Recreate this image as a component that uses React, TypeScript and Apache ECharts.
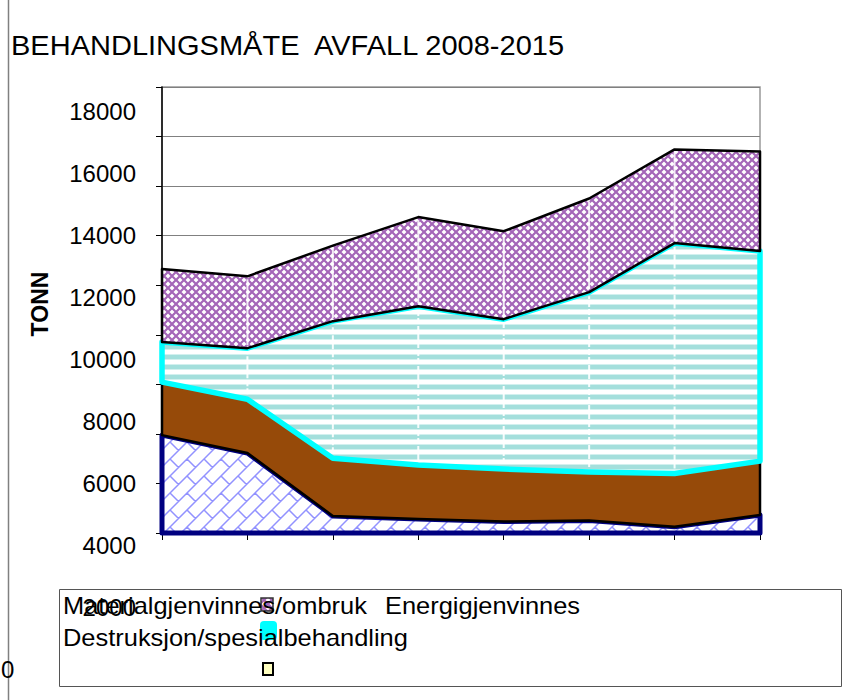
import React, { useEffect, useRef } from "react";
import * as echarts from "echarts";

const categories = ["2008", "2009", "2010", "2011", "2012", "2013", "2014", "2015"];
const seriesNames = [
  "Materialgjenvinnes/ombruk",
  "Energigjenvinnes",
  "Destruksjon/spesialbehandling",
  "",
];
const materialValues = [3950, 3230, 690, 560, 460, 500, 250, 730];
const energiValues = [2140, 2170, 2330, 2180, 2120, 1960, 2150, 2170];
const destruksjonValues = [1620, 2060, 5530, 6410, 6050, 7260, 9300, 8480];
const annetValues = [2940, 2900, 3050, 3600, 3550, 3780, 3780, 4020];
const yTickLabels = [2000, 4000, 6000, 8000, 10000, 12000, 14000, 16000, 18000];
const strayZeroLabel = "0";
const titleText = "BEHANDLINGSMÅTE  AVFALL 2008-2015";
const yAxisTitle = "TONN";

const FONT = "'Liberation Sans', Arial, sans-serif";

function makePattern(w: number, h: number, draw: (c: CanvasRenderingContext2D) => void) {
  const cv = document.createElement("canvas");
  cv.width = w;
  cv.height = h;
  const ctx = cv.getContext("2d") as CanvasRenderingContext2D;
  ctx.fillStyle = "#ffffff";
  ctx.fillRect(0, 0, w, h);
  draw(ctx);
  return { image: cv.toDataURL(), repeat: "repeat", imageWidth: w, imageHeight: h } as any;
}

function brickPattern() {
  const T = 34;
  const R = 17;
  return makePattern(T, T, (c) => {
    c.strokeStyle = "rgba(110,110,255,0.75)";
    c.lineWidth = 1.5;
    c.beginPath();
    for (let k = -1; k <= 5; k++) {
      const s = R * k;
      c.moveTo(-20, s + 20);
      c.lineTo(T + 20, s - T - 20);
    }
    for (let k = -2; k <= 5; k++) {
      const off = ((k % 2) + 2) % 2 === 0 ? 0 : R;
      for (let m = -3; m <= 3; m++) {
        const d = off + m * T;
        const s0 = R * k;
        const s1 = R * (k + 1);
        c.moveTo((s0 + d) / 2, (s0 - d) / 2);
        c.lineTo((s1 + d) / 2, (s1 - d) / 2);
      }
    }
    c.stroke();
  });
}

function stripePattern() {
  return makePattern(8, 10, (c) => {
    c.fillStyle = "#d2f0ee";
    c.fillRect(0, 4, 8, 1);
    c.fillRect(0, 9, 8, 1);
    c.fillStyle = "#a4dfdc";
    c.fillRect(0, 5, 8, 4);
  });
}

function purplePattern() {
  return makePattern(8, 8, (c) => {
    c.strokeStyle = "#a466b8";
    c.lineWidth = 2.2;
    c.beginPath();
    c.moveTo(-2, -2);
    c.lineTo(10, 10);
    c.moveTo(10, -2);
    c.lineTo(-2, 10);
    c.stroke();
  });
}

function cumulative(list: number[][]) {
  const out: number[][] = [categories.map(() => 0)];
  list.forEach((arr) => {
    const prev = out[out.length - 1];
    out.push(arr.map((v, i) => prev[i] + v));
  });
  return out;
}

export default function App() {
  const ref = useRef<HTMLDivElement>(null);

  useEffect(() => {
    if (!ref.current) return;
    const chart = echarts.init(ref.current, undefined, { renderer: "svg" });
    const cum = cumulative([materialValues, energiValues, destruksjonValues, annetValues]);

    const fills = [brickPattern(), "#964a09", stripePattern(), purplePattern()];
    const strokes = ["#000080", "#000000", "#00ffff", "#000000"];
    const widths = [5, 2.5, 5.5, 2.5];

    const areaSeries = [0, 1, 2, 3].map((k) => ({
      type: "custom",
      name: seriesNames[k],
      coordinateSystem: "cartesian2d",
      xAxisIndex: 0,
      yAxisIndex: 0,
      silent: true,
      data: [[0, 0]],
      encode: { x: 0, y: 1 },
      z: 2 + k,
      renderItem: (_params: any, api: any) => {
        const pts: number[][] = [];
        for (let i = 0; i < categories.length; i++) pts.push(api.coord([i, cum[k + 1][i]]));
        for (let i = categories.length - 1; i >= 0; i--) pts.push(api.coord([i, cum[k][i]]));
        return {
          type: "polygon",
          shape: { points: pts },
          style: {
            fill: fills[k],
            stroke: strokes[k],
            lineWidth: widths[k],
            lineJoin: "round",
          },
        };
      },
    }));

    const whiteLines = {
      type: "custom",
      coordinateSystem: "cartesian2d",
      xAxisIndex: 0,
      yAxisIndex: 0,
      silent: true,
      z: 6,
      data: categories.slice(1, -1).map((_, j) => [j + 1, 0]),
      encode: { x: 0, y: 1 },
      renderItem: (params: any, api: any) => {
        const i = params.dataIndex + 1;
        const a = api.coord([i, cum[2][i]]);
        const b = api.coord([i, cum[3][i]]);
        const c = api.coord([i, cum[4][i]]);
        return {
          type: "group",
          children: [
            {
              type: "line",
              shape: { x1: a[0], y1: a[1] - 5, x2: b[0], y2: b[1] + 4 },
              style: { stroke: "rgba(255,255,255,0.9)", lineWidth: 2, lineDash: [6, 2] },
            },
            {
              type: "line",
              shape: { x1: b[0], y1: b[1] - 3, x2: c[0], y2: c[1] + 3 },
              style: { stroke: "rgba(255,255,255,0.85)", lineWidth: 2 },
            },
          ],
        };
      },
    };

    const legendTextStyle = { fontSize: 24, fontFamily: FONT, fill: "#000" };

    chart.setOption({
      animation: false,
      backgroundColor: "#ffffff",
      grid: [
        {
          left: 162,
          right: 93,
          top: 87,
          bottom: 167,
          show: true,
          borderColor: "#999999",
          borderWidth: 1.5,
          backgroundColor: "transparent",
        },
        { left: 162, right: 93, top: 111, bottom: 93, show: false },
      ],
      xAxis: [
        {
          type: "category",
          gridIndex: 0,
          data: categories,
          boundaryGap: false,
          axisLine: { show: true, lineStyle: { color: "#000", width: 1 } },
          axisTick: { show: true, length: 7, lineStyle: { color: "#000", width: 1 } },
          axisLabel: { show: false },
          splitLine: { show: false },
        },
        {
          type: "category",
          gridIndex: 1,
          data: categories,
          show: false,
        },
      ],
      yAxis: [
        {
          type: "value",
          gridIndex: 0,
          min: 0,
          max: 18000,
          interval: 2000,
          axisLine: { show: true, lineStyle: { color: "#000", width: 1.5 } },
          axisTick: { show: true, length: 6, lineStyle: { color: "#000", width: 1 } },
          axisLabel: { show: false },
          splitLine: { show: true, lineStyle: { color: "#808080", width: 1 } },
        },
        {
          type: "value",
          gridIndex: 1,
          min: yTickLabels[0],
          max: yTickLabels[yTickLabels.length - 1],
          interval: 2000,
          axisLine: { show: false },
          axisTick: { show: false },
          splitLine: { show: false },
          axisLabel: {
            show: true,
            margin: 26,
            color: "#000",
            fontSize: 24,
            fontFamily: FONT,
            formatter: (v: number) => (yTickLabels.indexOf(v) >= 0 ? String(v) : ""),
          },
        },
      ],
      series: [...areaSeries, whiteLines],
      graphic: [
        {
          type: "line",
          shape: { x1: 8.5, y1: 0, x2: 8.5, y2: 700 },
          style: { stroke: "#808080", lineWidth: 1.5 },
          silent: true,
        },
        {
          type: "text",
          x: 11,
          y: 46,
          scaleX: 1.075,
          style: {
            text: titleText,
            fontSize: 27,
            fontFamily: FONT,
            fill: "#000",
            verticalAlign: "middle",
          },
        },
        {
          type: "text",
          x: 40,
          y: 304,
          rotation: Math.PI / 2,
          style: {
            text: yAxisTitle,
            fontSize: 23,
            fontWeight: "bold",
            fontFamily: FONT,
            fill: "#000",
            align: "center",
            verticalAlign: "middle",
          },
        },
        {
          type: "rect",
          shape: { x: 59.5, y: 589.5, width: 782, height: 97 },
          style: { fill: "none", stroke: "#555", lineWidth: 1 },
        },
        {
          type: "rect",
          shape: { x: 261, y: 598, width: 12, height: 13 },
          style: { fill: fills[3], stroke: "#333", lineWidth: 1.5 },
        },
        {
          type: "rect",
          shape: { x: 260, y: 621, width: 17, height: 19, r: 4 },
          style: { fill: "#00ffff" },
        },
        {
          type: "rect",
          shape: { x: 263, y: 663, width: 10, height: 12 },
          style: { fill: "#ffffc0", stroke: "#000", lineWidth: 2 },
        },
        {
          type: "text",
          x: 63,
          y: 606,
          scaleX: 1.06,
          style: { ...legendTextStyle, text: seriesNames[0], verticalAlign: "middle" },
        },
        {
          type: "text",
          x: 385,
          y: 606,
          scaleX: 1.06,
          style: { ...legendTextStyle, text: seriesNames[1], verticalAlign: "middle" },
        },
        {
          type: "text",
          x: 63,
          y: 638,
          scaleX: 1.06,
          style: { ...legendTextStyle, text: seriesNames[2], verticalAlign: "middle" },
        },
        {
          type: "text",
          x: 1,
          y: 669,
          style: { ...legendTextStyle, text: strayZeroLabel, verticalAlign: "middle" },
        },
      ],
    });

    return () => chart.dispose();
  }, []);

  return (
    <div
      ref={ref}
      style={{ position: "fixed", left: 0, top: 0, width: 853, height: 700 }}
    />
  );
}
